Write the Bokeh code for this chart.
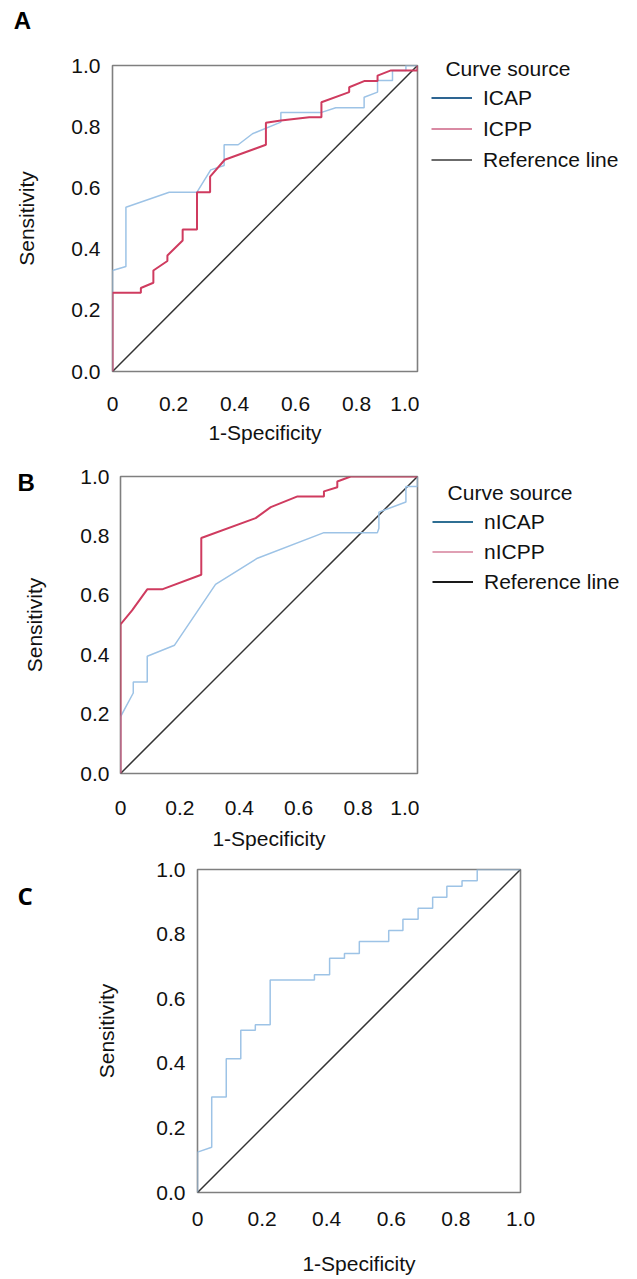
from bokeh.plotting import figure
from bokeh.layouts import column, row
from bokeh.models import Range1d, FixedTicker, Legend, LegendItem, Label
from bokeh.embed import file_html
from bokeh.resources import INLINE

# ---------------- data ----------------
TICKS = [0.0, 0.2, 0.4, 0.6, 0.8, 1.0]
X_TICK_LABELS = ["0", "0.2", "0.4", "0.6", "0.8", "1.0"]
Y_TICK_LABELS = ["0.0", "0.2", "0.4", "0.6", "0.8", "1.0"]
REF_X = [0.0, 1.0]
REF_Y = [0.0, 1.0]

# Panel A
a_icap_x = [0, 0, 0.044, 0.044, 0.186, 0.277, 0.322, 0.366, 0.366, 0.412, 0.459, 0.552,
            0.552, 0.683, 0.732, 0.825, 0.825, 0.869, 0.869, 0.918, 0.918, 0.962, 0.962, 1.0]
a_icap_y = [0, 0.33, 0.343, 0.537, 0.586, 0.586, 0.659, 0.673, 0.741, 0.741, 0.777, 0.815,
            0.846, 0.846, 0.862, 0.862, 0.896, 0.913, 0.951, 0.951, 0.984, 0.984, 1.0, 1.0]
a_icpp_x = [0, 0, 0.093, 0.093, 0.134, 0.134, 0.180, 0.180, 0.230, 0.230,
            0.277, 0.277, 0.320, 0.320, 0.368, 0.503, 0.503, 0.552, 0.645, 0.685,
            0.685, 0.776, 0.776, 0.825, 0.869, 0.869, 0.913, 0.962, 1.0, 1.0]
a_icpp_y = [0, 0.257, 0.257, 0.273, 0.290, 0.330, 0.361, 0.379, 0.428, 0.464,
            0.464, 0.586, 0.586, 0.637, 0.692, 0.741, 0.813, 0.820, 0.831, 0.831,
            0.880, 0.913, 0.929, 0.949, 0.949, 0.967, 0.984, 0.984, 0.984, 1.0]

# Panel B
b_nicap_x = [0, 0, 0.043, 0.043, 0.090, 0.090, 0.182, 0.320, 0.461, 0.685, 0.865, 0.870,
             0.870, 0.961, 0.961, 1.0, 1.0]
b_nicap_y = [0, 0.191, 0.271, 0.308, 0.308, 0.395, 0.432, 0.637, 0.725, 0.811, 0.811, 0.826,
             0.880, 0.914, 0.966, 0.966, 1.0]
b_nicpp_x = [0, 0, 0.039, 0.090, 0.140, 0.272, 0.272, 0.455, 0.506, 0.596, 0.685, 0.685,
             0.730, 0.730, 0.775, 1.0]
b_nicpp_y = [0, 0.502, 0.549, 0.620, 0.620, 0.669, 0.793, 0.860, 0.897, 0.933, 0.933, 0.950,
             0.964, 0.983, 1.0, 1.0]

# Panel C
c_x = [0, 0, 0.044, 0.044, 0.089, 0.089, 0.134, 0.134, 0.179, 0.179, 0.225, 0.225,
       0.362, 0.362, 0.409, 0.409, 0.455, 0.455, 0.501, 0.501, 0.592, 0.592, 0.636, 0.636,
       0.683, 0.683, 0.728, 0.728, 0.772, 0.772, 0.819, 0.819, 0.866, 0.866, 1.0]
c_y = [0, 0.125, 0.140, 0.296, 0.296, 0.414, 0.414, 0.502, 0.502, 0.519, 0.519, 0.658,
       0.658, 0.674, 0.674, 0.725, 0.725, 0.740, 0.740, 0.777, 0.777, 0.811, 0.811, 0.846,
       0.846, 0.880, 0.880, 0.914, 0.914, 0.948, 0.948, 0.965, 0.965, 1.0, 1.0]

# ---------------- style ----------------
FONT = "Liberation Sans"
TICK_SIZE = "21px"
LABEL_SIZE = "21px"
BLUE = "#9dc3e6"
RED = "#cf3b5f"
REFC = "#333333"
FRAME = "#7f7f7f"
W = 630
PLOT_W = 419          # frame right edge at 417 plus a 2px border
LEG_W = W - PLOT_W
STRIP_H = 40          # band above panel A that holds its letter


def make_fig(width, height, left, right, top, bottom, ylab_std, ytick_std, xtick_std,
             xlab_std, letter=None, letter_font=FONT, letter_offset=0, letter_standoff=0):
    p = figure(width=width, height=height, x_range=Range1d(0, 1), y_range=Range1d(0, 1),
               output_backend="svg", toolbar_location=None, title=letter,
               min_border_left=left, min_border_right=right,
               min_border_top=top, min_border_bottom=bottom)
    if letter is not None:
        p.title.align = "left"
        p.title.offset = letter_offset
        p.title.standoff = letter_standoff
        p.title.text_font = letter_font
        p.title.text_font_size = "24px"
        p.title.text_font_style = "bold"
        p.title.text_color = "#000000"
    p.xgrid.visible = False
    p.ygrid.visible = False
    p.outline_line_color = FRAME
    p.outline_line_width = 1.6
    p.background_fill_color = "white"
    p.border_fill_color = "white"
    for ax, labels, lab in ((p.xaxis[0], X_TICK_LABELS, "1-Specificity"),
                            (p.yaxis[0], Y_TICK_LABELS, "Sensitivity")):
        ax.ticker = FixedTicker(ticks=TICKS)
        ax.major_label_overrides = {t: s for t, s in zip(TICKS, labels)}
        ax.axis_line_color = None
        ax.major_tick_line_color = None
        ax.minor_tick_line_color = None
        ax.major_tick_out = 0
        ax.major_tick_in = 0
        ax.major_label_text_font = FONT
        ax.major_label_text_font_size = TICK_SIZE
        ax.major_label_text_color = "#111111"
        ax.axis_label = lab
        ax.axis_label_text_font = FONT
        ax.axis_label_text_font_size = LABEL_SIZE
        ax.axis_label_text_font_style = "normal"
        ax.axis_label_text_color = "#111111"
    p.yaxis[0].axis_label_standoff = ylab_std
    p.yaxis[0].major_label_standoff = ytick_std
    p.xaxis[0].major_label_standoff = xtick_std
    p.xaxis[0].axis_label_standoff = xlab_std
    return p


def bare_fig(width, height, x0=0, y0=0):
    q = figure(width=width, height=height, x_range=Range1d(x0, x0 + 1),
               y_range=Range1d(y0, y0 + 1), output_backend="svg", toolbar_location=None,
               title=None, x_axis_type=None, y_axis_type=None, min_border=0)
    q.xgrid.visible = False
    q.ygrid.visible = False
    q.outline_line_color = None
    q.background_fill_color = "white"
    q.border_fill_color = "white"
    return q


def legend_fig(height, names, colors, vx, vy, spacing, tx, ty):
    # a bare figure that only holds the legend; its swatch lines lie outside its ranges
    q = bare_fig(LEG_W, height, 2, 2)
    items = []
    for n, c in zip(names, colors):
        r = q.line(REF_X, REF_Y, line_color=c, line_width=2)
        items.append(LegendItem(label=n, renderers=[r]))
    leg = Legend(items=items, location=(vx, vy), padding=0, margin=0, spacing=spacing,
                 label_height=25, glyph_height=25, glyph_width=41, label_standoff=11,
                 border_line_color=None, background_fill_alpha=0,
                 label_text_font=FONT, label_text_font_size="21px",
                 label_text_color="#111111")
    q.add_layout(leg)
    q.add_layout(Label(x=2 + tx, y=2 + ty, text="Curve source", text_font=FONT,
                       text_font_size="21px", text_baseline="middle", text_align="left",
                       text_color="#111111"))
    return q


# Letter strip for panel A: page rows 0-40
sA = bare_fig(40, STRIP_H)
sA.add_layout(Label(x=0.55, y=0.5, text="A", text_font=FONT, text_font_style="bold",
                    text_font_size="24px", text_align="center", text_baseline="middle",
                    text_color="#000000"))

# Panel A: frame page x 112-417, y 65-371 ; figure rows 40-452
pA = make_fig(PLOT_W, 452 - STRIP_H, 112, 2, 65 - STRIP_H, 81, 30, 12, 25, 7)
pA.line(REF_X, REF_Y, line_color=REFC, line_width=1.5)
pA.line(a_icap_x, a_icap_y, line_color=BLUE, line_width=1.5)
pA.line(a_icpp_x, a_icpp_y, line_color=RED, line_width=2)
lA = legend_fig(452 - STRIP_H, ["ICAP", "ICPP", "Reference line"],
                ["#2e6592", "#d98aa3", "#6b6b6b"], 12, 280, 6, 0.123,
                (452 - 68) / (452 - STRIP_H) - STRIP_H / (452 - STRIP_H) * 0 - 0.0
                if False else (452 - 68) / (452 - STRIP_H))

# Panel B: frame page x 120-417, y 476-773 ; figure rows 452-857
pB = make_fig(PLOT_W, 405, 120, 2, 24, 84, 31, 11, 27, 9, "B", FONT, -103, -38)
pB.line(REF_X, REF_Y, line_color=REFC, line_width=1.5)
pB.line(b_nicap_x, b_nicap_y, line_color=BLUE, line_width=1.5)
pB.line(b_nicpp_x, b_nicpp_y, line_color=RED, line_width=2)
lB = legend_fig(405, ["nICAP", "nICPP", "Reference line"], ["#2f6f93", "#e0a0b4", "#1a1a1a"],
                13, 263, 5, 0.133, (857 - 492) / 405)

# Panel C: frame page x 197-520, y 869-1193 ; figure rows 857-1277
pC = make_fig(W, 420, 197, 110, 12, 84, 35, 12, 19, 23, "C", "Open Sans", -180, -84)
pC.line(REF_X, REF_Y, line_color=REFC, line_width=1.5)
pC.line(c_x, c_y, line_color=BLUE, line_width=1.5)

layout = column(row(sA), row(column(pA), column(lA)), row(column(pB), column(lB)), row(pC))
open("out.html", "w").write(file_html(layout, INLINE))
